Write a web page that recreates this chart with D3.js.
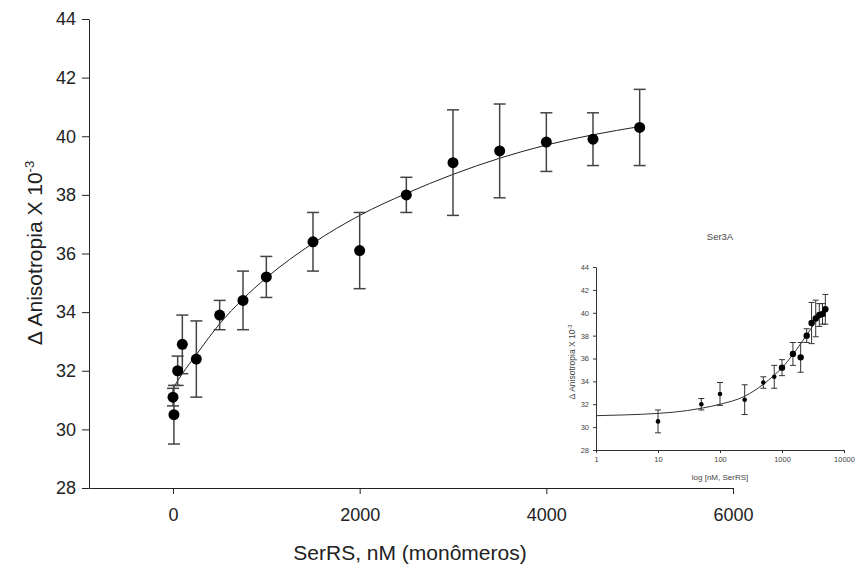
<!DOCTYPE html>
<html>
<head>
<meta charset="utf-8">
<script src="https://cdn.jsdelivr.net/npm/d3@7"></script>
<style>
  body { margin: 0; background: #fff; }
  text { font-family: Arial, "Liberation Sans", sans-serif; }
</style>
</head>
<body>
<script>
// data
var conc = [0, 10, 50, 100, 250, 500, 750, 1000, 1500, 2000, 2500, 3000, 3500, 4000, 4500, 5000];
var anis = [31.1, 30.5, 32.0, 32.9, 32.4, 33.9, 34.4, 35.2, 36.4, 36.1, 38.0, 39.1, 39.5, 39.8, 39.9, 40.3];
var sd   = [0.3, 1.0, 0.5, 1.0, 1.3, 0.5, 1.0, 0.7, 1.0, 1.3, 0.6, 1.8, 1.6, 1.0, 0.9, 1.3];

// fitted curve, main panel (linear x)
var fitX = [0, 100, 250, 500, 750, 1000, 1500, 2000, 2500, 3000, 3500, 4000, 4500, 5000];
var fitY = [31.4, 31.9, 32.55, 33.6, 34.45, 35.17, 36.35, 37.3, 38.05, 38.7, 39.25, 39.7, 40.05, 40.33];

// fitted curve, inset (log x)
var fitLogX = [1, 3, 10, 30, 50, 100, 250, 500, 750, 1000, 1500, 2000, 2500, 3000, 3500, 4000, 4500, 5000];
var fitLogY = [31.0, 31.07, 31.2, 31.45, 31.65, 32.0, 32.7, 33.75, 34.55, 35.2, 36.35, 37.3, 38.05, 38.7, 39.25, 39.7, 40.05, 40.35];

var xTicks = [0, 2000, 4000, 6000];
var yTicks = [28, 30, 32, 34, 36, 38, 40, 42, 44];
var xLogTicks = [1, 10, 100, 1000, 10000];

var data = conc.map(function(c, i) { return {x: c, y: anis[i], e: sd[i]}; });

var width = 855, height = 570;

var svg = d3.select("body").append("svg")
    .attr("width", width)
    .attr("height", height);

// ---------- main panel ----------
var x = d3.scaleLinear().domain([-900, 6000]).range([89, 733]);
var y = d3.scaleLinear().domain([28, 44]).range([488, 19]);

var g = svg.append("g");

var xAxis = g.append("g")
    .attr("transform", "translate(0," + y(28) + ")")
    .call(d3.axisBottom(x).tickValues(xTicks).tickFormat(d3.format("d"))
        .tickSize(6).tickPadding(14).tickSizeOuter(0));
var yAxis = g.append("g")
    .attr("transform", "translate(" + x(-900) + ",0)")
    .call(d3.axisLeft(y).tickValues(yTicks).tickSize(7).tickPadding(6).tickSizeOuter(0));

[xAxis, yAxis].forEach(function(a) {
    a.select(".domain").attr("stroke", "#222");
    a.selectAll(".tick line").attr("stroke", "#222");
    a.selectAll(".tick text").attr("font-size", "18px").attr("fill", "#222")
        .attr("font-family", "Arial, 'Liberation Sans', sans-serif");
});

g.append("text")
    .attr("x", 410)
    .attr("y", 560)
    .attr("text-anchor", "middle")
    .attr("font-size", "21px")
    .attr("fill", "#222")
    .text("SerRS, nM (monômeros)");

var yLab = g.append("text")
    .attr("transform", "translate(42,253) rotate(-90)")
    .attr("text-anchor", "middle")
    .attr("font-size", "21px")
    .attr("fill", "#222");
yLab.append("tspan").text("Δ Anisotropia X 10");
yLab.append("tspan").attr("dy", "-8").attr("font-size", "13px").text("-3");

var line = d3.line()
    .x(function(d) { return x(d[0]); })
    .y(function(d) { return y(d[1]); })
    .curve(d3.curveMonotoneX);

g.append("path")
    .datum(fitX.map(function(v, i) { return [v, fitY[i]]; }))
    .attr("fill", "none")
    .attr("stroke", "#222")
    .attr("stroke-width", 1)
    .attr("d", line);

var bars = g.selectAll(".err").data(data).enter().append("g").attr("class", "err")
    .attr("stroke", "#444").attr("stroke-width", 1.5);
bars.append("line")
    .attr("x1", function(d) { return x(d.x); })
    .attr("x2", function(d) { return x(d.x); })
    .attr("y1", function(d) { return y(d.y - d.e); })
    .attr("y2", function(d) { return y(d.y + d.e); });
bars.append("line")
    .attr("x1", function(d) { return x(d.x) - 6; })
    .attr("x2", function(d) { return x(d.x) + 6; })
    .attr("y1", function(d) { return y(d.y + d.e); })
    .attr("y2", function(d) { return y(d.y + d.e); });
bars.append("line")
    .attr("x1", function(d) { return x(d.x) - 6; })
    .attr("x2", function(d) { return x(d.x) + 6; })
    .attr("y1", function(d) { return y(d.y - d.e); })
    .attr("y2", function(d) { return y(d.y - d.e); });

g.selectAll(".dot").data(data).enter().append("circle")
    .attr("class", "dot")
    .attr("cx", function(d) { return x(d.x); })
    .attr("cy", function(d) { return y(d.y); })
    .attr("r", 5.5)
    .attr("fill", "#000");

// ---------- inset ----------
var xi = d3.scaleLog().domain([1, 10000]).range([596, 844]);
var yi = d3.scaleLinear().domain([28, 44]).range([450, 267]);
var ins = svg.append("g");
var insData = data.filter(function(d) { return d.x > 0; });

var xiAxis = ins.append("g")
    .attr("transform", "translate(0," + yi(28) + ")")
    .call(d3.axisBottom(xi).tickValues(xLogTicks).tickFormat(d3.format("d"))
        .tickSize(3).tickPadding(4).tickSizeOuter(0));
var yiAxis = ins.append("g")
    .attr("transform", "translate(" + xi(1) + ",0)")
    .call(d3.axisLeft(yi).tickValues(yTicks).tickSize(3).tickPadding(4).tickSizeOuter(0));

[xiAxis, yiAxis].forEach(function(a) {
    a.select(".domain").attr("stroke", "#333");
    a.selectAll(".tick line").attr("stroke", "#333");
    a.selectAll(".tick text").attr("font-size", "7.5px").attr("fill", "#444")
        .attr("font-family", "Arial, 'Liberation Sans', sans-serif");
});

ins.append("text")
    .attr("x", 720).attr("y", 480)
    .attr("text-anchor", "middle")
    .attr("font-size", "8px").attr("fill", "#444")
    .text("log [nM, SerRS]");

ins.append("text")
    .attr("x", 720).attr("y", 240)
    .attr("text-anchor", "middle")
    .attr("font-size", "9.5px").attr("fill", "#444")
    .text("Ser3A");

var yiLab = ins.append("text")
    .attr("transform", "translate(575,362) rotate(-90)")
    .attr("text-anchor", "middle")
    .attr("font-size", "8.5px")
    .attr("fill", "#444");
yiLab.append("tspan").text("Δ Anisotropia X 10");
yiLab.append("tspan").attr("dy", "-3").attr("font-size", "5.5px").text("-3");

var lineLog = d3.line()
    .x(function(d) { return xi(d[0]); })
    .y(function(d) { return yi(d[1]); })
    .curve(d3.curveMonotoneX);

ins.append("path")
    .datum(fitLogX.map(function(v, i) { return [v, fitLogY[i]]; }))
    .attr("fill", "none")
    .attr("stroke", "#333")
    .attr("stroke-width", 1)
    .attr("d", lineLog);

var ibars = ins.selectAll(".ierr").data(insData).enter().append("g").attr("class", "ierr")
    .attr("stroke", "#333").attr("stroke-width", 1);
ibars.append("line")
    .attr("x1", function(d) { return xi(d.x); })
    .attr("x2", function(d) { return xi(d.x); })
    .attr("y1", function(d) { return yi(d.y - d.e); })
    .attr("y2", function(d) { return yi(d.y + d.e); });
ibars.append("line")
    .attr("x1", function(d) { return xi(d.x) - 3; })
    .attr("x2", function(d) { return xi(d.x) + 3; })
    .attr("y1", function(d) { return yi(d.y + d.e); })
    .attr("y2", function(d) { return yi(d.y + d.e); });
ibars.append("line")
    .attr("x1", function(d) { return xi(d.x) - 3; })
    .attr("x2", function(d) { return xi(d.x) + 3; })
    .attr("y1", function(d) { return yi(d.y - d.e); })
    .attr("y2", function(d) { return yi(d.y - d.e); });

ins.selectAll(".idot").data(insData).enter().append("circle")
    .attr("class", "idot")
    .attr("cx", function(d) { return xi(d.x); })
    .attr("cy", function(d) { return yi(d.y); })
    .attr("r", function(d) { return d.x >= 1000 ? 3.2 : 2.3; })
    .attr("fill", "#000");
</script>
</body>
</html>
